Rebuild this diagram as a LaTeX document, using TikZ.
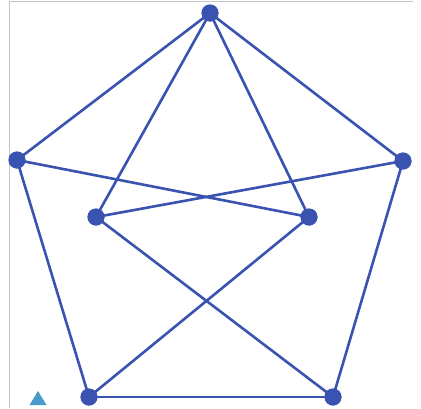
\documentclass[tikz,border=0pt]{standalone}
\begin{document}
\begin{tikzpicture}[x=1pt,y=-1pt,
  vtx/.style={circle,fill=edgeblue,inner sep=0pt,minimum size=17pt},
  edge/.style={draw=edgeblue,line width=2.6pt}]
\definecolor{edgeblue}{HTML}{3A52B0}
\definecolor{framegray}{HTML}{C4C4C4}
\definecolor{triblue}{HTML}{4A9BCB}
\useasboundingbox (0,0) rectangle (421,408);
\fill[white] (0,0) rectangle (421,408);
\draw[framegray,line width=1.2pt] (9.5,408) -- (9.5,1.5) -- (413,1.5);
\node[vtx] (t) at (210,13) {};
\node[vtx] (l) at (17,160) {};
\node[vtx] (r) at (403,161) {};
\node[vtx] (il) at (96,217) {};
\node[vtx] (ir) at (309,217) {};
\node[vtx] (bl) at (89,397) {};
\node[vtx] (br) at (333,397) {};
\begin{scope}[on background layer/.style={}]
\path[edge] (t.center) -- (l.center);
\path[edge] (t.center) -- (r.center);
\path[edge] (t.center) -- (il.center);
\path[edge] (t.center) -- (ir.center);
\path[edge] (l.center) -- (ir.center);
\path[edge] (l.center) -- (bl.center);
\path[edge] (r.center) -- (il.center);
\path[edge] (r.center) -- (br.center);
\path[edge] (il.center) -- (br.center);
\path[edge] (ir.center) -- (bl.center);
\path[edge] (bl.center) -- (br.center);
\end{scope}
\foreach \n/\p in {t/{210,13},l/{17,160},r/{403,161},il/{96,217},ir/{309,217},bl/{89,397},br/{333,397}}
  \fill[edgeblue] (\n.center) circle (8.5pt);
\fill[triblue] (38,391) -- (46.5,405) -- (29.5,405) -- cycle;
\end{tikzpicture}
\end{document}
